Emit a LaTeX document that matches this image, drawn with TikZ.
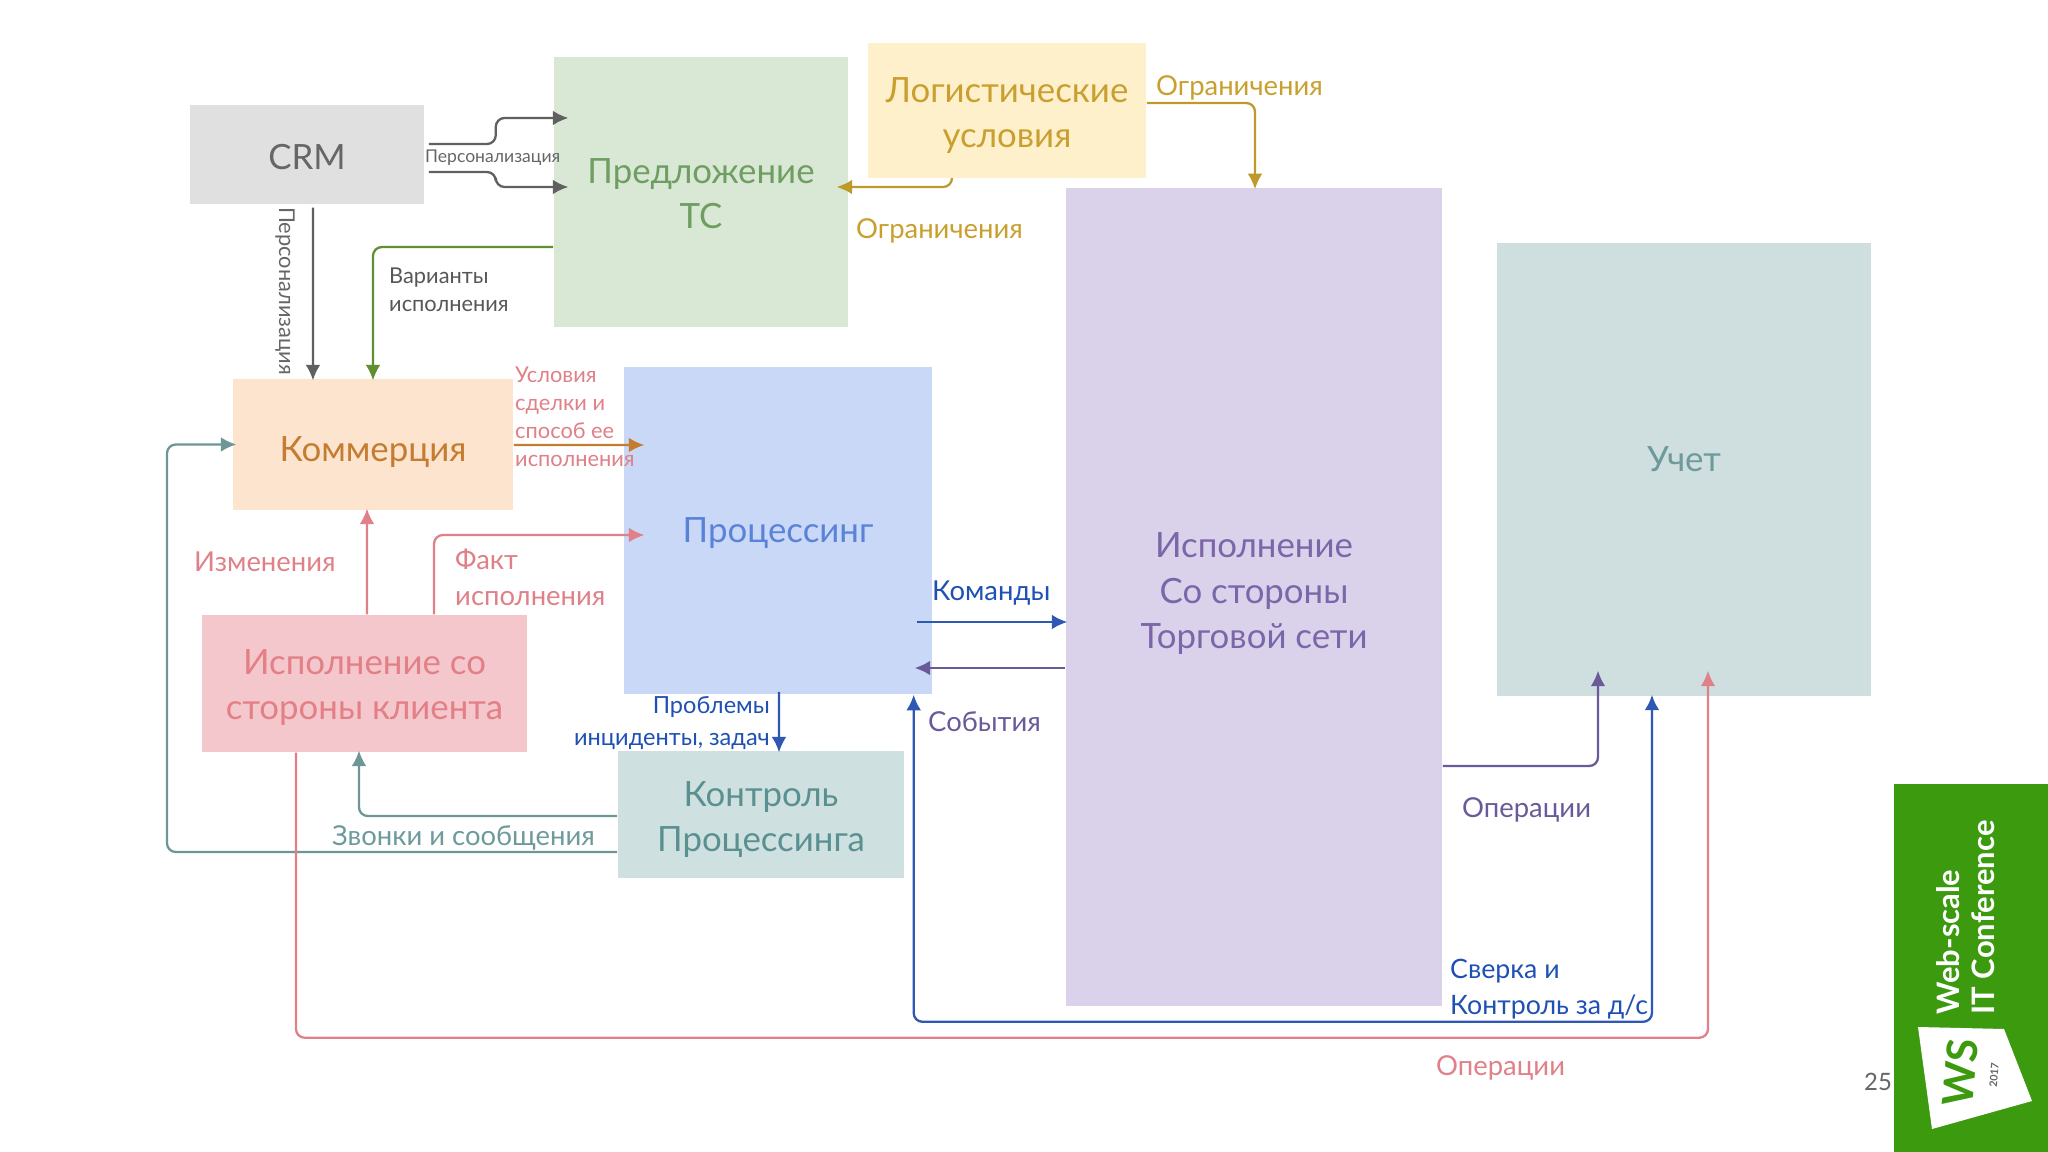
\documentclass[tikz,border=0pt]{standalone}
\usepackage{fontspec}
\setmainfont{Lato}
\usetikzlibrary{arrows.meta}
\definecolor{crmfill}{HTML}{E0E0E0}
\definecolor{crmtext}{HTML}{666666}
\definecolor{offerfill}{HTML}{D9E8D5}
\definecolor{offertext}{HTML}{6F9E63}
\definecolor{logfill}{HTML}{FFF0CC}
\definecolor{logtext}{HTML}{C9A02F}
\definecolor{logline}{HTML}{BD9A2A}
\definecolor{execfill}{HTML}{DAD2EA}
\definecolor{exectext}{HTML}{7A66A8}
\definecolor{accfill}{HTML}{CFDFE0}
\definecolor{acctext}{HTML}{6E9A9C}
\definecolor{procfill}{HTML}{C9D8F7}
\definecolor{proctext}{HTML}{5A83D8}
\definecolor{commfill}{HTML}{FCE4CF}
\definecolor{commtext}{HTML}{C47C2F}
\definecolor{clientfill}{HTML}{F4C7CC}
\definecolor{clienttext}{HTML}{E37F86}
\definecolor{ctrlfill}{HTML}{CFE0E0}
\definecolor{ctrltext}{HTML}{5A9090}
\definecolor{blueline}{HTML}{2F58B4}
\definecolor{bluetext}{HTML}{1F50B4}
\definecolor{purpline}{HTML}{6A5A9A}
\definecolor{redline}{HTML}{E08088}
\definecolor{tealline}{HTML}{6F9696}
\definecolor{greenline}{HTML}{5F8F30}
\definecolor{grayline}{HTML}{606060}
\definecolor{ws}{HTML}{3C9A0E}
\newcommand{\pushdown}[1]{\rule{0pt}{#1}}
\newcommand{\pushup}[1]{\rule[-#1]{0pt}{0pt}}
\tikzset{
  block/.style={draw=none, inner sep=0pt, align=center, font=\fontsize{9.9}{13}\selectfont},
  tag/.style={inner sep=0pt, align=left, anchor=west, xshift=-.015cm, font=\fontsize{6.2}{8}\selectfont},
  bigtag/.style={tag, font=\fontsize{7.8}{10.2}\selectfont},
  arr/.style={-{Latex[length=4.4pt,width=4.2pt]}, line width=.65pt, rounded corners=2.5pt, shorten >=-.6pt},
}
\begin{document}
\begin{tikzpicture}[x=0.01cm,y=-0.01cm]
\useasboundingbox (0,0) rectangle (2048,1152);
\fill[white] (0,0) rectangle (2048,1152);
\node[block, fill=crmfill, text=crmtext, minimum width=2.34cm, minimum height=.99cm] (crm) at (307,154.5) {\pushdown{8.6pt}CRM};
\node[block, fill=offerfill, text=offertext, minimum width=2.94cm, minimum height=2.7cm] (offer) at (701,192) {\pushdown{8pt}Предложение\\ТС};
\node[block, fill=logfill, text=logtext, minimum width=2.78cm, minimum height=1.35cm] (logist) at (1007,110.5) {\pushdown{10pt}Логистические\\условия};
\node[block, fill=execfill, text=exectext, minimum width=3.76cm, minimum height=8.18cm] (exec) at (1254,597) {Исполнение\\Со стороны\\Торговой сети\pushup{3.6pt}};
\node[block, fill=accfill, text=acctext, minimum width=3.74cm, minimum height=4.53cm] (acc) at (1684,469.5) {Учет\pushup{5.8pt}};
\node[block, fill=procfill, text=proctext, minimum width=3.08cm, minimum height=3.27cm] (proc) at (778,530.5) {\pushdown{8.8pt}Процессинг};
\node[block, fill=commfill, text=commtext, minimum width=2.8cm, minimum height=1.31cm] (comm) at (373,444.5) {\pushdown{11.6pt}Коммерция};
\node[block, fill=clientfill, text=clienttext, minimum width=3.25cm, minimum height=1.37cm] (client) at (364.5,683.5) {\pushdown{9.4pt}Исполнение со\\стороны клиента};
\node[block, fill=ctrlfill, text=ctrltext, minimum width=2.86cm, minimum height=1.27cm] (ctrl) at (761,814.5) {\pushdown{10pt}Контроль\\Процессинга};
\coordinate (loopl) at (167,852);
% connectors
\draw[arr, grayline] ([shift={(4,-10.5)}]crm.east) -- ++(67,0) -- ++(0,-26) -- ([shift={(13,-74)}]offer.west);
\draw[arr, grayline] ([shift={(4,17.5)}]crm.east) -- ++(67,0) -- ++(0,15) -- ([shift={(13,-5)}]offer.west);
\draw[arr, grayline] ([shift={(6,3)}]crm.south) -- ([xshift=-.6cm]comm.north);
\draw[arr, greenline] ([yshift=-.55cm]offer.west) -| (comm.north);
\draw[arr, commtext] ([yshift=-.005cm]comm.east) -- ([shift={(19,-85.5)}]proc.west);
\draw[arr, redline] ([xshift=.025cm]client.north) -- ([shift={(-6,0)}]comm.south);
\draw[arr, redline] ([xshift=.695cm]client.north) |- ([shift={(19,4.5)}]proc.west);
\draw[arr, tealline] ([shift={(0,1.5)}]ctrl.west) -| ([xshift=-.055cm]client.south);
\draw[arr, tealline] ([shift={(0,37.5)}]ctrl.west) -- (loopl) |- ([xshift=.02cm]comm.west);
\draw[arr, redline] ([xshift=-.685cm]client.south) -- ++(0,285) -| ([shift={(24,-24)}]acc.south);
\draw[arr, blueline] ([shift={(1,-3)}]proc.south) -- ([xshift=.18cm]ctrl.north);
\draw[arr, blueline] ([shift={(-16,91.5)}]proc.east) -- ([shift={(0,25)}]exec.west);
\draw[arr, purpline] ([shift={(0,71)}]exec.west) -- ([shift={(-16,137.5)}]proc.east);
\draw[arr, blueline, {Latex[length=4.4pt,width=4.2pt]}-{Latex[length=4.4pt,width=4.2pt]}] ([xshift=1.356cm]proc.south) -- ++(0,327) -| ([xshift=-.32cm]acc.south);
\draw[arr, purpline] ([shift={(0,169)}]exec.east) -| ([shift={(-86,-24)}]acc.south);
\draw[arr, logline] ([shift={(0,-7.5)}]logist.east) -| ([xshift=.01cm]exec.north);
\draw[arr, logline] ([xshift=-.55cm]logist.south) |- ([shift={(-10,-5)}]offer.east);
% labels
\node[tag, text=crmtext, font=\fontsize{5}{6}\selectfont] (l1) at (426,158) {Персонализация};
\node[tag, text=crmtext, anchor=center, xshift=.015cm, rotate=-90] (l2) at (285,291) {Персонализация};
\node[tag, text=crmtext!85!black] (l3) at (390,290) {Варианты\\исполнения};
\node[tag, text=redline] (l4) at (516,417) {Условия\\сделки и\\способ ее\\исполнения};
\node[bigtag, text=redline] (l5) at (195,562) {Изменения};
\node[bigtag, text=redline] (l6) at (456,577) {Факт\\исполнения};
\node[bigtag, text=acctext] (l7) at (333,838) {Звонки и сообщения};
\node[tag, text=bluetext, align=right, anchor=east, font=\fontsize{6.7}{9.1}\selectfont] (l8) at (772,723) {Проблемы\\инциденты, задач};
\node[bigtag, text=bluetext] (l9) at (933,593) {Команды};
\node[bigtag, text=purpline] (l10) at (929,722) {События};
\node[bigtag, text=purpline] (l11) at (1463,810) {Операции};
\node[bigtag, text=bluetext, font=\fontsize{7.6}{10.2}\selectfont] (l12) at (1451,989) {Сверка и\\Контроль за д/с};
\node[bigtag, text=redline] (l13) at (1437,1068) {Операции};
\node[bigtag, text=logtext] (l14) at (1157,88) {Ограничения};
\node[bigtag, text=logtext] (l15) at (857,231) {Ограничения};
% badge
\fill[ws] (1894,784) rectangle (2048,1152);
\node[inner sep=0pt, text=crmtext, font=\fontsize{6.8}{8}\selectfont] (page) at (1878,1082) {25};
\fill[white] (1918,1027) -- (2004,1029) -- (2032,1101) -- (1932,1129) -- cycle;
\node[inner sep=0pt, rotate=90, anchor=west, text=white, font=\fontsize{8.8}{9}\bfseries\selectfont] (web) at (1948,1015) {Web-scale};
\node[inner sep=0pt, rotate=90, anchor=west, text=white, font=\fontsize{8.8}{9}\bfseries\selectfont] (conf) at (1983,1015) {IT Conference};
\node[inner sep=0pt, rotate=85, text=ws, font=\fontsize{12}{14}\bfseries\selectfont] (wslogo) at (1960,1073) {WS};
\node[inner sep=0pt, rotate=85, text=crmtext, font=\fontsize{3}{4}\bfseries\selectfont] (year) at (1994,1075) {2017};
\end{tikzpicture}
\end{document}
